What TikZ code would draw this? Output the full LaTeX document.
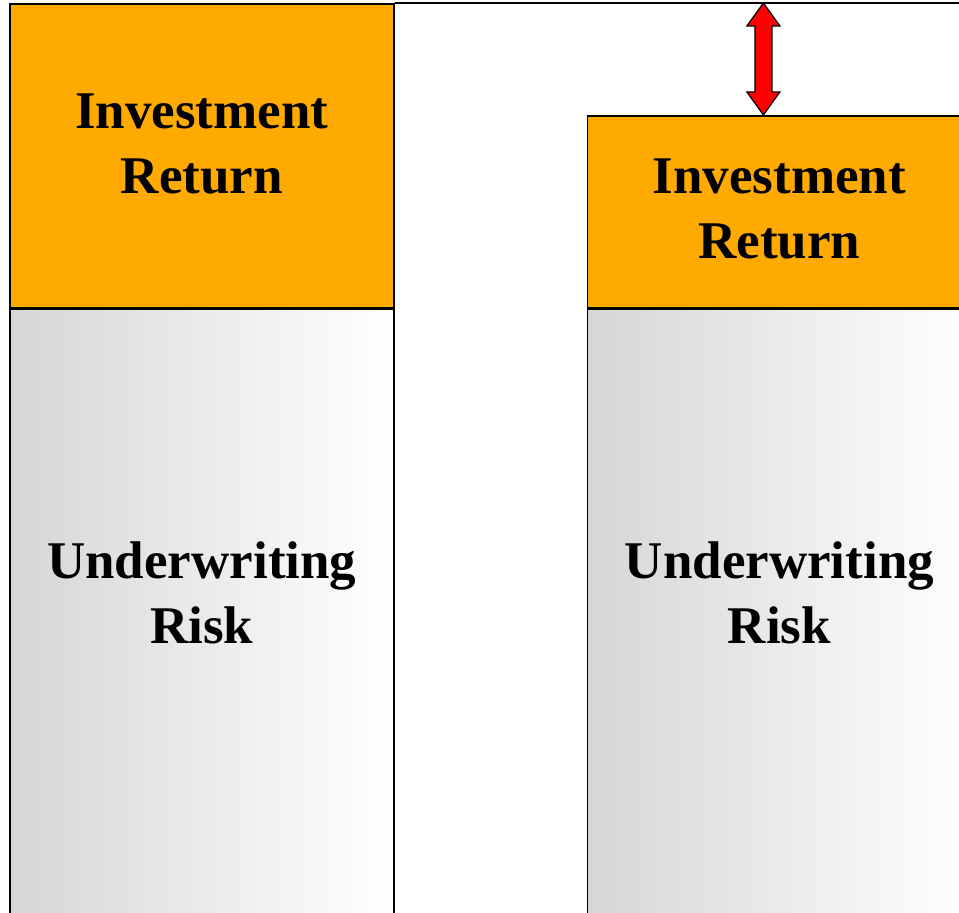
\documentclass[tikz,border=0pt]{standalone}
\usepackage{fontspec}
\setmainfont{Liberation Serif}
\usepackage{tikz}
\usetikzlibrary{positioning,calc}
\definecolor{irorange}{RGB}{255,170,0}
\definecolor{uwgray}{RGB}{214,214,214}

\begin{document}
\begin{tikzpicture}[x=0.5pt,y=-0.5pt,line width=0.8pt,
    ir/.style={draw,fill=irorange,minimum width=192pt,inner sep=0pt},
    uw/.style={draw,left color=uwgray,right color=white,minimum width=192pt,minimum height=320pt,inner sep=0pt},
    lbl/.style={font=\bfseries\fontsize{26.5}{32.5}\selectfont,align=center,inner sep=0pt},
    arrowfill/.style={draw,fill=red,line width=0.6pt}]
  \useasboundingbox (0,0) rectangle (959,913);
  % left column
  \node[ir,minimum height=152pt,anchor=north west] (lir) at (9,3) {};
  \node[uw,below=0pt of lir] (luw) {};
  % right column, same base
  \node[ir,minimum height=96pt,anchor=south west] (rir) at ([xshift=96pt]lir.south east) {};
  \node[uw,below=0pt of rir] (ruw) {};
  \node[lbl] at ([yshift=6pt]lir.center) {Investment\\Return};
  \node[lbl] at ([yshift=1.5pt]rir.center) {Investment\\Return};
  \node[lbl] at ([yshift=-142pt]luw.north) {Underwriting\\Risk};
  \node[lbl] at ([yshift=-142pt]ruw.north) {Underwriting\\Risk};
  % top level and gap
  \coordinate (topend) at ([xshift=300pt]lir.north east);
  \draw (lir.north east) -- (topend);
  \coordinate (abot) at ([xshift=-8pt]rir.north);
  \coordinate (atop) at (abot |- lir.north);
  \draw[arrowfill] (atop) -- ++(8.25pt,-11.5pt) -- ++(-4pt,0pt)
    -- ([xshift=4.25pt,yshift=11.5pt]abot) -- ++(4pt,0pt) -- (abot)
    -- ++(-8.25pt,11.5pt) -- ++(4pt,0pt)
    -- ([xshift=-4.25pt,yshift=-11.5pt]atop) -- ++(-4pt,0pt) -- cycle;
\end{tikzpicture}
\end{document}
